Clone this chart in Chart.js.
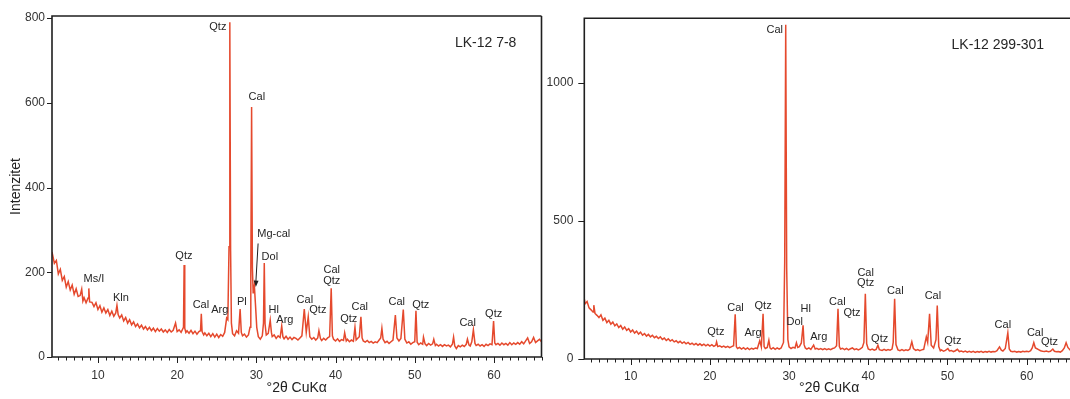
<!DOCTYPE html>
<html><head><meta charset="utf-8">
<script src="https://cdn.jsdelivr.net/npm/chart.js@4.4.0/dist/chart.umd.min.js"></script>
<style>
html,body{margin:0;padding:0;width:1070px;height:399px;overflow:hidden;background:#fff;}
#wl{position:absolute;left:0;top:0;width:545px;height:399px;}
#wr{position:absolute;left:545px;top:0;width:535px;height:399px;}
</style></head><body>
<div id="wl"><canvas id="cl"></canvas></div>
<div id="wr"><canvas id="cr"></canvas></div>
<script>
// ---- tick labels ----
const angleTicks = [10, 20, 30, 40, 50, 60];
const countTicksL = [0, 200, 400, 600, 800];
const countTicksR = [0, 500, 1000];

// ---- Sample LK-12 7-8 (left) ----
const angleL = [
4.2,4.5,4.75,5.0,5.25,5.5,5.75,6.0,6.25,6.5,
6.75,7.0,7.25,7.5,7.75,7.95,8.1,8.25,8.5,8.75,
8.85,8.95,9.25,9.5,9.75,10.0,10.25,10.5,10.75,11.0,
11.25,11.5,11.75,12.0,12.25,12.4,12.55,12.75,13.0,13.25,
13.5,13.75,14.0,14.25,14.5,14.75,15.0,15.25,15.5,15.75,
16.0,16.25,16.5,16.75,17.0,17.25,17.5,17.75,18.0,18.25,
18.5,18.75,19.0,19.25,19.5,19.8,20.0,20.25,20.5,20.8,
20.88,20.96,21.1,21.25,21.5,21.75,22.0,22.25,22.5,22.75,
22.95,23.05,23.15,23.35,23.5,23.75,24.0,24.25,24.5,24.75,
25.0,25.25,25.5,25.75,26.0,26.25,26.4,26.55,26.65,26.75,
26.85,27.0,27.25,27.5,27.75,27.95,28.1,28.25,28.5,28.75,
29.0,29.2,29.3,29.4,29.5,29.6,29.75,29.9,30.05,30.25,
30.5,30.75,30.9,31.0,31.1,31.25,31.5,31.75,31.9,32.0,
32.25,32.5,32.75,33.0,33.2,33.35,33.5,33.75,34.0,34.25,
34.5,34.75,35.0,35.25,35.5,35.75,36.05,36.3,36.55,36.75,
37.0,37.25,37.5,37.75,37.9,38.1,38.25,38.5,38.75,39.0,
39.25,39.45,39.6,39.75,40.0,40.25,40.5,40.75,41.0,41.15,
41.35,41.5,41.75,42.0,42.25,42.45,42.6,42.8,43.0,43.2,
43.35,43.5,43.75,44.0,44.25,44.5,44.75,45.0,45.25,45.5,
45.7,45.85,46.0,46.25,46.5,46.75,47.0,47.25,47.55,47.75,
48.0,48.25,48.55,48.75,49.0,49.25,49.5,49.75,50.0,50.15,
50.3,50.5,50.75,51.0,51.1,51.3,51.5,51.75,52.0,52.25,
52.4,52.6,52.75,53.0,53.25,53.5,53.75,54.0,54.25,54.5,
54.75,54.9,55.05,55.25,55.5,55.75,56.0,56.25,56.5,56.65,
56.85,57.0,57.2,57.4,57.6,57.75,58.0,58.25,58.5,58.75,
59.0,59.25,59.5,59.75,59.95,60.1,60.25,60.5,60.75,61.0,
61.25,61.5,61.75,62.0,62.25,62.5,62.75,63.0,63.25,63.5,
63.75,64.0,64.25,64.5,64.75,65.0,65.25,65.5,65.75,66.0
];
const countL = [
248,221,228,196,207,181,190,165,178,158,
170,148,161,143,145,160,132,140,128,139,
162,130,129,119,128,112,121,106,116,104,
112,98,108,96,104,122,100,92,99,85,
93,80,88,76,83,72,78,69,75,66,
72,64,70,62,68,60,67,61,66,59,
64,58,65,59,63,80,60,64,58,70,
217,68,58,62,56,63,55,61,54,60,
62,102,60,52,57,50,56,48,55,47,
54,46,53,49,58,92,88,260,790,250,
80,55,50,62,56,113,58,50,54,47,
52,70,200,590,210,150,168,120,70,48,
42,50,80,222,78,52,56,87,58,48,
52,44,50,46,73,48,43,49,42,47,
41,46,44,40,45,50,113,58,95,48,
42,46,40,45,62,43,39,44,40,45,
48,162,50,42,38,43,37,41,39,57,
38,42,36,40,37,70,40,44,48,95,
45,38,35,39,34,37,33,36,34,40,
45,68,42,34,37,32,36,40,99,45,
38,44,112,42,33,36,30,34,36,109,
35,29,33,30,47,31,27,32,28,31,
42,27,30,26,29,25,29,26,28,24,
30,47,26,20,27,24,28,25,30,42,
28,26,36,64,32,27,30,26,29,25,
30,27,31,29,85,33,29,32,28,33,
29,32,28,34,29,33,30,34,30,36,
31,38,45,32,36,46,34,38,42,36
];
const labelTextL = ['Qtz','Cal','Qtz','Ms/I','Kln','Cal','Arg','Pl','Mg-cal','Dol','Hl','Arg','Cal','Qtz','Cal','Qtz','Qtz','Cal','Cal','Qtz','Cal','Qtz'];
const labelAngleL = [25.14,30.06,20.85,9.5,12.9,23.0,25.39,28.17,32.2,31.7,32.2,33.6,36.12,37.76,39.52,39.52,41.67,43.06,47.72,50.75,56.68,59.96];
const labelCountL = [779,614,238,184,139,123,111,130,290,236,111,87,135,111,205,179,90,118,130,123,80,101];

// ---- Sample LK-12 299-301 (right) ----
const angleR = [
4.15,4.25,4.5,4.75,5.0,5.25,5.35,5.5,5.75,6.0,
6.25,6.5,6.75,7.0,7.25,7.5,7.75,8.0,8.25,8.5,
8.75,9.0,9.25,9.5,9.75,10.0,10.25,10.5,10.75,11.0,
11.25,11.5,11.75,12.0,12.25,12.5,12.75,13.0,13.25,13.5,
13.75,14.0,14.25,14.5,14.75,15.0,15.25,15.5,15.75,16.0,
16.25,16.5,16.75,17.0,17.25,17.5,17.75,18.0,18.25,18.5,
18.75,19.0,19.25,19.5,19.75,20.0,20.25,20.5,20.75,20.85,
21.0,21.25,21.5,21.75,22.0,22.25,22.5,22.75,23.0,23.2,
23.35,23.5,23.75,24.0,24.25,24.5,24.75,25.0,25.25,25.5,
25.75,26.0,26.3,26.5,26.72,26.85,27.0,27.25,27.45,27.6,
27.75,28.0,28.25,28.5,28.75,29.0,29.3,29.45,29.58,29.7,
29.85,30.0,30.25,30.5,30.75,30.93,31.1,31.3,31.55,31.77,
31.9,32.05,32.25,32.5,32.75,33.1,33.3,33.5,33.75,34.0,
34.25,34.5,34.75,35.0,35.25,35.5,35.75,36.0,36.18,36.35,
36.5,36.75,37.0,37.25,37.5,37.75,38.0,38.25,38.5,38.75,
39.0,39.25,39.45,39.63,39.8,40.0,40.25,40.5,40.75,41.0,
41.22,41.4,41.75,42.0,42.25,42.5,42.75,43.0,43.15,43.33,
43.5,43.75,44.0,44.25,44.5,44.75,45.0,45.25,45.5,45.7,
46.0,46.25,46.5,46.75,47.0,47.33,47.5,47.74,47.95,48.25,
48.55,48.71,48.9,49.1,49.25,49.5,49.75,50.05,50.25,50.5,
50.75,51.0,51.25,51.5,51.75,52.0,52.25,52.5,52.75,53.0,
53.25,53.5,53.75,54.0,54.25,54.5,54.75,55.0,55.25,55.5,
55.75,56.0,56.25,56.57,56.8,57.0,57.3,57.62,57.8,58.0,
58.25,58.5,58.75,59.0,59.25,59.5,59.75,60.0,60.25,60.5,
60.7,60.9,61.1,61.25,61.5,61.75,62.0,62.25,62.5,62.75,
63.0,63.3,63.5,63.75,64.0,64.25,64.5,64.75,64.98,65.2,
65.5,65.75,66.0
];
const countR = [
218,200,208,185,178,170,195,165,158,150,
160,140,148,132,140,126,134,120,127,114,
121,108,116,104,110,98,105,94,101,90,
97,86,92,83,89,80,86,77,82,74,
80,71,76,67,73,65,70,62,66,59,
64,57,62,55,60,53,57,51,56,50,
55,49,54,48,53,47,52,46,50,62,
45,48,43,47,42,46,41,45,48,162,
44,38,42,36,41,35,40,34,39,36,
40,38,66,44,164,45,38,42,68,40,
36,41,35,40,36,40,60,350,1210,330,
70,44,38,42,40,59,42,45,58,122,
52,40,36,40,35,50,36,39,35,38,
34,38,34,37,34,38,40,48,182,45,
36,39,34,38,33,37,40,34,37,33,
37,42,60,236,55,36,33,36,32,35,
50,34,31,35,31,34,32,36,60,218,
52,33,30,34,30,33,31,36,62,38,
31,34,30,33,35,80,60,164,50,40,
70,194,45,30,33,28,31,38,29,31,
27,30,35,27,29,26,29,25,28,25,
28,24,27,25,28,24,27,25,28,25,
27,26,30,44,32,29,38,95,36,28,
26,28,25,27,25,28,26,28,26,30,
40,59,40,38,34,30,28,27,29,26,
28,36,28,26,27,25,30,40,59,42,
32,29,28
];
const labelTextR = ['Cal','Qtz','Cal','Arg','Qtz','Dol','Hl','Arg','Cal','Qtz','Cal','Qtz','Qtz','Cal','Cal','Qtz','Cal','Cal','Qtz'];
const labelAngleR = [28.2,20.76,23.24,25.46,26.72,30.72,32.1,33.75,36.1,37.94,39.67,39.67,41.44,43.42,48.16,50.68,56.99,61.07,62.88];
const labelCountR = [1191,97,186,95,192,134,180,80,206,167,310,274,74,245,227,66,122,96,60];

const FONT = '"Liberation Sans", Arial, Helvetica, sans-serif';
Chart.defaults.font.family = FONT;
Chart.defaults.color = '#333';

const decorPlugin = {
  id: 'decor',
  afterDatasetsDraw(chart, args, o) {
    const {ctx, chartArea: a, scales: {x, y}} = chart;
    ctx.save();
    ctx.strokeStyle = '#1f1f1f';
    ctx.lineWidth = 1.6;
    ctx.beginPath();
    ctx.moveTo(a.right, a.top); ctx.lineTo(a.left, a.top);
    ctx.lineTo(a.left, a.bottom); ctx.lineTo(a.right, a.bottom);
    if (o.rightBorder) ctx.lineTo(a.right, a.top);
    ctx.stroke();
    ctx.lineWidth = 1;
    ctx.beginPath();
    for (let v = Math.ceil(x.min); v <= x.max; v++) {
      const px = Math.round(x.getPixelForValue(v)) + 0.5;
      const len = v % 10 === 0 ? 6 : 3.5;
      ctx.moveTo(px, a.bottom); ctx.lineTo(px, a.bottom + len);
    }
    for (const t of y.ticks) {
      const py = Math.round(y.getPixelForValue(t.value)) + 0.5;
      ctx.moveTo(a.left - o.yTickLen, py); ctx.lineTo(a.left, py);
    }
    ctx.stroke();
    ctx.fillStyle = '#262626';
    ctx.textAlign = 'center';
    ctx.textBaseline = 'middle';
    ctx.font = '11px ' + FONT;
    o.texts.forEach((t, i) => {
      ctx.fillText(t, x.getPixelForValue(o.angles[i]), y.getPixelForValue(o.counts[i]));
    });
    ctx.font = '14px ' + FONT;
    ctx.fillText(o.name, x.getPixelForValue(o.nameAt[0]), y.getPixelForValue(o.nameAt[1]));
    if (o.arrow) {
      const x1 = x.getPixelForValue(o.arrow[0]), y1 = y.getPixelForValue(o.arrow[1]);
      const x2 = x.getPixelForValue(o.arrow[2]), y2 = y.getPixelForValue(o.arrow[3]);
      ctx.strokeStyle = '#1f1f1f'; ctx.lineWidth = 1;
      ctx.beginPath(); ctx.moveTo(x1, y1); ctx.lineTo(x2, y2 - 4); ctx.stroke();
      const ang = Math.atan2(y2 - y1, x2 - x1);
      ctx.beginPath();
      ctx.moveTo(x2, y2);
      ctx.lineTo(x2 - 7 * Math.cos(ang - 0.35), y2 - 7 * Math.sin(ang - 0.35));
      ctx.lineTo(x2 - 7 * Math.cos(ang + 0.35), y2 - 7 * Math.sin(ang + 0.35));
      ctx.closePath(); ctx.fillStyle = '#1f1f1f'; ctx.fill();
    }
    ctx.restore();
  }
};

function build(id, angles, counts, cfg) {
  const pts = angles.map((a, i) => ({x: a, y: counts[i]}));
  return new Chart(document.getElementById(id), {
    type: 'line',
    data: {datasets: [{data: pts, borderColor: '#e5492d', borderWidth: 1.5, pointRadius: 0, tension: 0, fill: false}]},
    plugins: [decorPlugin],
    options: {
      responsive: true, maintainAspectRatio: false, animation: false, devicePixelRatio: 1,
      layout: {padding: {left: 0, top: 16, right: cfg.padRight, bottom: 0}},
      plugins: {legend: {display: false}, tooltip: {enabled: false}, decor: cfg.decor},
      scales: {
        x: {
          type: 'linear', min: cfg.xmin, max: 66,
          afterFit: s => { s.height = cfg.xh; },
          afterBuildTicks: s => { s.ticks = angleTicks.map(v => ({value: v})); },
          grid: {display: false, drawTicks: false}, border: {display: false},
          ticks: {autoSkip: false, padding: cfg.xpad, font: {size: 12}, color: '#333', callback: v => String(v)},
          title: {display: true, text: '°2θ CuKα', font: {size: 14}, color: '#222', padding: {top: 0, bottom: 2}}
        },
        y: {
          min: 0, max: cfg.ymax,
          afterFit: s => { s.width = cfg.yw; },
          afterBuildTicks: s => { s.ticks = cfg.yticks.map(v => ({value: v})); },
          grid: {display: false, drawTicks: false}, border: {display: false},
          ticks: {autoSkip: false, padding: cfg.ypad, font: {size: 12}, color: '#333', callback: v => String(v)},
          title: {display: cfg.ytitle, text: 'Intenzitet', font: {size: 14}, color: '#222', padding: {top: 8, bottom: 0}}
        }
      }
    }
  });
}

build('cl', angleL, countL, {
  xmin: 4.2, ymax: 805, yticks: countTicksL, yw: 52, xh: 42, padRight: 3.5, xpad: 11, ypad: 7, ytitle: true,
  decor: {rightBorder: true, yTickLen: 5, texts: labelTextL, angles: labelAngleL, counts: labelCountL,
          name: 'LK-12 7-8', nameAt: [58.95, 741], arrow: [30.22, 268, 29.93, 165]}
});
build('cr', angleR, countR, {
  xmin: 4.15, ymax: 1234, yticks: countTicksR, yw: 39.3, xh: 40, padRight: 5.8, xpad: 10, ypad: 11, ytitle: false,
  decor: {rightBorder: false, yTickLen: 6, texts: labelTextR, angles: labelAngleR, counts: labelCountR,
          name: 'LK-12 299-301', nameAt: [56.36, 1138], arrow: null}
});
</script>
</body></html>
